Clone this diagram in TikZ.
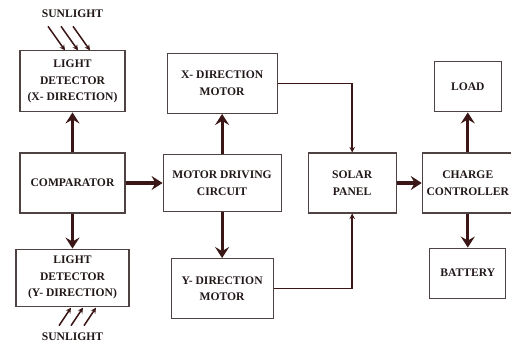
\documentclass[tikz,border=0pt]{standalone}
\usepackage{fontspec}
\setmainfont{Liberation Serif}
\usepackage{tikz}
\usetikzlibrary{positioning,arrows.meta}
\definecolor{ArrowBrown}{HTML}{3A1616}
\definecolor{FrameGray}{HTML}{4E4242}
\definecolor{InkDark}{HTML}{221818}

\begin{document}
\begin{tikzpicture}[x=1pt, y=-1pt, every node/.style={font=\fontsize{11.6}{16.5}\selectfont\bfseries, text=InkDark}]
  \tikzstyle{box}=[rectangle, draw=FrameGray, line width=1.1pt, fill=white,
  minimum height=60pt, align=center, inner sep=1pt]
  \tikzstyle{bigarrow}=[-{Stealth[length=11pt, width=14pt, inset=4pt]}, line width=3.2pt, color=ArrowBrown]
  \tikzstyle{smallarrow}=[-{Stealth[length=5.5pt, width=5.5pt]}, line width=1.5pt, color=ArrowBrown]
  \useasboundingbox (0,0) rectangle (511,342);
  \node[box, minimum width=105pt] (comp) at (72.5,183) {COMPARATOR};
  \node[box, minimum width=105pt, minimum height=61pt, above=40pt of comp] (detX) {LIGHT\\DETECTOR\\(X- DIRECTION)};
  \node[box, minimum width=113pt, minimum height=57pt, below=35pt of comp] (detY) {LIGHT\\DETECTOR\\(Y- DIRECTION)};
  \node[above=32pt of detX, inner sep=1pt] (sunX) {SUNLIGHT};
  \node[below=25pt of detY, inner sep=1pt] (sunY) {SUNLIGHT};
  \node[box, minimum width=118pt, minimum height=57pt, right=37pt of comp] (drive) {MOTOR DRIVING\\CIRCUIT};
  \node[box, minimum width=110pt, above=40pt of drive] (motX) {X- DIRECTION\\MOTOR};
  \node[box, minimum width=102pt, below=46pt of drive] (motY) {Y- DIRECTION\\MOTOR};
  \node[box, minimum width=88pt, right=26pt of drive] (solar) {SOLAR\\PANEL};
  \node[box, minimum width=91pt, right=25pt of solar] (charge) {CHARGE\\CONTROLLER};
  \node[box, minimum width=67pt, minimum height=50pt, above=40pt of charge] (load) {LOAD};
  \node[box, minimum width=76pt, minimum height=50pt, below=34pt of charge] (battery) {BATTERY};
  \foreach \s in {-7.5, 5.5, 17.5}
    \draw[smallarrow] ([shift={(\s-17, -24)}]detX.north) -- ([xshift=\s]detX.north);
  \foreach \s in {-13.5, -1.5, 11.5}
    \draw[smallarrow] ([shift={(\s, 19)}]detY.south) -- ([shift={(\s+12, 1)}]detY.south);
  \draw[bigarrow] (comp) -- (detX);
  \draw[bigarrow] (comp) -- (detY);
  \draw[bigarrow] (comp) -- (drive);
  \draw[bigarrow] (drive) -- (motX);
  \draw[bigarrow] (drive) -- (motY);
  \draw[smallarrow] (motX.east) -| (solar.north);
  \draw[smallarrow] (motY.east) -| (solar.south);
  \draw[bigarrow] (solar) -- (charge);
  \draw[bigarrow] (charge) -- (load);
  \draw[bigarrow] (charge) -- (battery);
\end{tikzpicture}
\end{document}
